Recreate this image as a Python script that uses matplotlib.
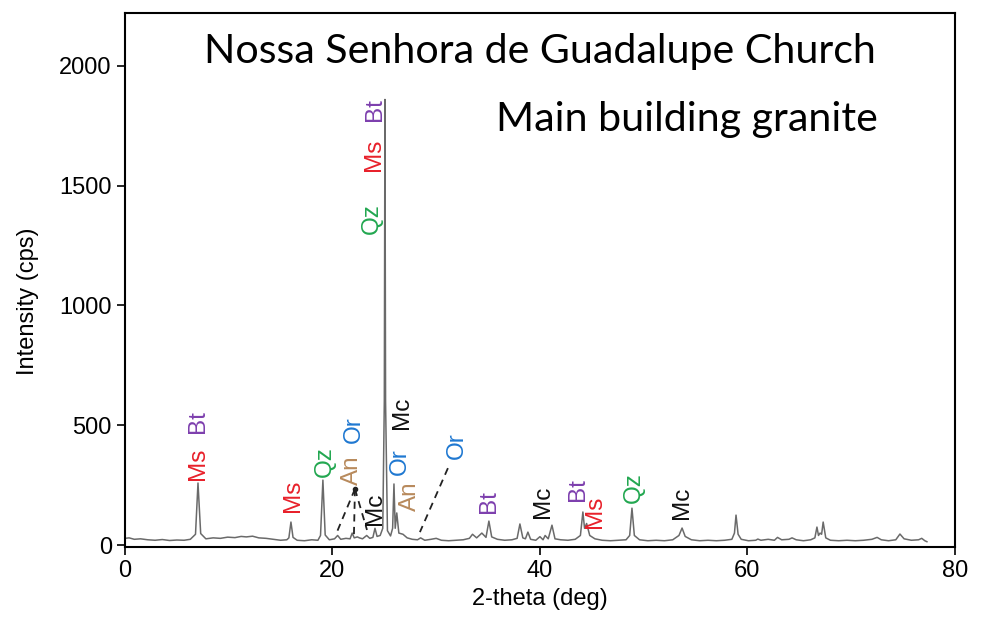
import numpy as np
import matplotlib.pyplot as plt

# XRD trace (2-theta in deg, intensity in cps)
two_theta = [0.0, 0.4, 0.9, 1.5, 2.2, 2.9, 3.6, 4.3, 5.0, 5.7, 6.3, 6.8, 7.04, 7.3, 7.8,
             8.5, 9.2, 9.9, 10.6, 11.2, 11.7, 12.3, 12.9, 13.6, 14.3, 15.0, 15.6, 15.8,
             16.0, 16.2, 16.6, 17.3, 18.0, 18.6, 18.85, 19.08, 19.3, 19.7, 20.2, 20.5,
             20.8, 21.3, 21.7, 21.9, 22.1, 22.4, 22.6, 22.9, 23.3, 23.6, 23.9, 24.1,
             24.3, 24.6, 24.85, 25.0, 25.06, 25.12, 25.3, 25.6, 25.8, 25.93, 26.05,
             26.2, 26.4, 26.8, 27.2, 27.7, 28.2, 28.5, 28.9, 29.5, 30.0, 30.5, 31.2,
             31.9, 32.6, 33.2, 33.5, 33.9, 34.4, 34.8, 35.08, 35.35, 35.9, 36.6, 37.3,
             37.8, 38.07, 38.35, 38.6, 38.84, 39.1, 39.6, 40.0, 40.3, 40.5, 40.8, 41.16,
             41.45, 42.0, 42.7, 43.4, 43.9, 44.14, 44.3, 44.5, 44.8, 45.3, 46.0, 46.8,
             47.6, 48.3, 48.65, 48.87, 49.1, 49.6, 50.4, 51.2, 52.0, 52.8, 53.4, 53.7,
             54.0, 54.6, 55.4, 56.2, 57.0, 57.8, 58.5, 58.75, 58.9, 59.1, 59.4, 60.1,
             60.8, 61.0, 61.3, 62.0, 62.6, 62.9, 63.3, 64.0, 64.3, 64.7, 65.4, 66.1,
             66.5, 66.7, 66.85, 67.0, 67.15, 67.3, 67.55, 68.0, 68.8, 69.6, 70.4, 71.2,
             72.0, 72.5, 72.9, 73.6, 74.3, 74.7, 75.1, 75.8, 76.5, 76.8, 77.1, 77.3]
intensity = [28, 30, 24, 26, 22, 20, 23, 19, 21, 20, 24, 45, 259, 48, 26,
             30, 28, 33, 31, 36, 34, 37, 30, 28, 24, 20, 22, 30,
             96, 32, 20, 18, 22, 20, 40, 271, 42, 22, 26, 40,
             24, 28, 26, 50, 30, 34, 30, 26, 40, 28, 32, 70,
             36, 40, 70, 600, 1860, 600, 60, 38, 70, 255, 70,
             134, 50, 45, 30, 24, 22, 30, 20, 24, 28, 20, 18,
             20, 22, 28, 45, 30, 50, 32, 100, 34, 24, 20, 22,
             28, 88, 30, 26, 54, 24, 20, 35, 22, 40, 26, 83,
             26, 22, 20, 24, 40, 138, 70, 90, 40, 26, 20, 18,
             20, 22, 40, 154, 40, 22, 18, 20, 18, 22, 40, 71,
             36, 22, 18, 20, 18, 20, 24, 50, 125, 45, 24, 18,
             20, 25, 20, 24, 20, 32, 22, 24, 30, 22, 18, 22,
             30, 75, 40, 50, 45, 96, 30, 20, 18, 20, 18, 20,
             24, 32, 22, 18, 22, 46, 26, 20, 22, 28, 18, 14]

# phase labels: (2-theta, cps, text)
lbl_x = [7.04, 7.04, 16.19, 19.28, 21.88, 22.07, 24.1, 24.1, 24.0, 23.8,
         26.7, 26.5, 27.47, 32.0, 35.08, 40.29, 43.66, 45.3, 49.06, 53.69]
lbl_y = [340, 515, 205, 347, 313, 480, 150, 1816, 1628, 1361,
         551, 347, 205, 413, 180, 180, 230, 138, 238, 175]
lbl_txt = ['Ms', 'Bt', 'Ms', 'Qz', 'An', 'Or', 'Mc', 'Bt', 'Ms', 'Qz',
           'Mc', 'Or', 'An', 'Or', 'Bt', 'Mc', 'Bt', 'Ms', 'Qz', 'Mc']

phase_colors = {'Ms': '#e8202a', 'Bt': '#7d3fae', 'Qz': '#22a750',
                'Or': '#1f78d1', 'An': '#b88a5c', 'Mc': '#111111'}

# dashed leader lines (x0, y0, x1, y1)
leaders = [(22.17, 234, 20.43, 54), (22.17, 234, 22.07, 42),
           (22.17, 234, 23.33, 63), (31.13, 321, 28.43, 54)]

plt.rcParams['font.family'] = ['Liberation Sans', 'DejaVu Sans']

fig = plt.figure(figsize=(9.87, 6.17), dpi=100)
ax = fig.add_axes([0.1266, 0.1135, 0.8409, 0.8655])

ax.plot(two_theta, intensity, color='#6a6a6a', lw=1.1)

for x0, y0, x1, y1 in leaders:
    ax.plot([x0, x1], [y0, y1], color='#222222', lw=1.3, ls=(0, (4, 3)))
ax.plot(22.17, 234, 'o', color='#222222', ms=3)

for x, y, t in zip(lbl_x, lbl_y, lbl_txt):
    ax.text(x, y, t, rotation=90, ha='center', va='center',
            color=phase_colors[t], fontsize=17.5)

ax.set_xlim(0, 80)
ax.set_ylim(-8, 2221)
ax.set_xticks([0, 20, 40, 60, 80])
ax.set_yticks([0, 500, 1000, 1500, 2000])
ax.tick_params(labelsize=17, length=6, width=1.2, direction='out')
for s in ax.spines.values():
    s.set_linewidth(1.5)

ax.set_xlabel('2-theta (deg)', fontsize=17, labelpad=4)
ax.set_ylabel('Intensity (cps)', fontsize=17)
ax.yaxis.set_label_coords(-0.104, 0.46)

ax.text(0.5, 0.927, 'Nossa Senhora de Guadalupe Church', transform=ax.transAxes,
        ha='center', va='center', fontsize=29.6, family='Lato')
ax.text(0.907, 0.80, 'Main building granite', transform=ax.transAxes,
        ha='right', va='center', fontsize=29.6, family='Lato')

fig.savefig('out.png', dpi=100)
